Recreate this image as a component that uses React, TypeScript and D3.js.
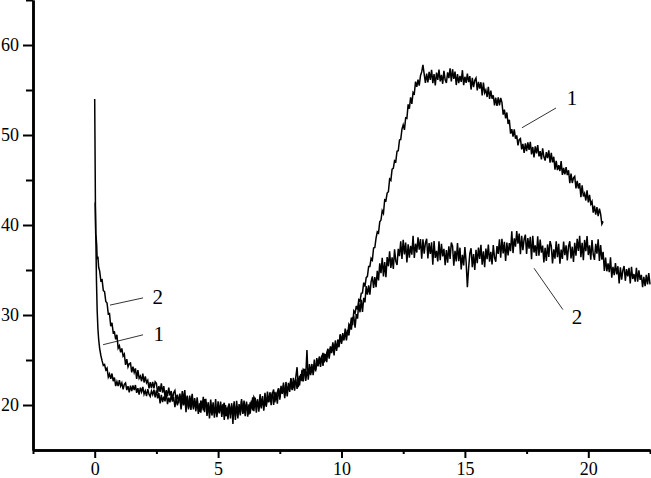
import React, { useEffect, useRef } from 'react';
import * as d3 from 'd3';

const W = 651;
const H = 478;

// steep start of the curves, [x, y]
const head1 = [[0, 54], [0.01, 50], [0.02, 46], [0.03, 42], [0.05, 38], [0.07, 34], [0.1, 30.5], [0.13, 28.5], [0.16, 27.3], [0.2, 26.3], [0.25, 25.5], [0.3, 24.9], [0.35, 24.4], [0.4, 24.5], [0.45, 23.9]];
const head2 = [[0.02, 42.5], [0.04, 39], [0.06, 38.6], [0.08, 37.8], [0.1, 36.2], [0.13, 36.5], [0.16, 35.3], [0.2, 34.9], [0.25, 33.8], [0.3, 33.9], [0.35, 32.7], [0.4, 32.6], [0.45, 31.5]];

// sampled every 0.05 starting at x = 0.5 (one row = one unit of x)
const start = 0.5;
const step = 0.05;

const series1 = [
  24.1, 23.1, 23.45, 22.9, 23.5, 22.65, 23.05, 22.1, 22.6, 22.1, 22.75, 22.1, 22.45, 21.75, 22.3, 22.45, 21.65, 22.1, 21.4, 22.15,
  21.55, 22.18, 21.65, 22.22, 21.35, 21.88, 21.15, 21.92, 21.45, 22.0, 21.2, 21.58, 21.0, 21.77, 21.2, 20.95, 21.55, 21.15, 21.7, 20.85,
  21.63, 20.74, 21.32, 20.18, 21.13, 20.33, 20.94, 20.4, 21.4, 20.09, 20.81, 20.3, 21.11, 20.38, 20.92, 19.75, 20.75, 19.96, 20.56, 20.81,
  19.5, 20.78, 19.95, 20.92, 19.2, 21.05, 19.7, 20.28, 19.45, 21.02, 19.5, 20.78, 19.75, 20.32, 19.0, 20.18, 19.15, 20.42, 19.4, 20.65,
  20.3, 18.78, 19.95, 19.12, 20.6, 19.2, 20.3, 18.58, 19.75, 18.92, 20.4, 19.2, 20.0, 18.68, 19.85, 20.25, 18.75, 19.72, 18.4, 20.0,
  18.9, 20.2, 17.9, 20.42, 18.75, 19.88, 18.5, 20.1, 19.2, 20.45, 19.0, 19.82, 18.75, 20.38, 19.3, 18.95, 20.3, 19.62, 20.85, 19.3,
  20.81, 19.78, 20.64, 19.25, 20.56, 19.62, 20.48, 19.93, 21.35, 19.8, 20.87, 20.29, 21.42, 20.6, 21.39, 20.02, 21.45, 20.54, 21.42, 21.85,
  20.58, 21.85, 21.23, 22.21, 20.75, 22.56, 21.49, 22.1, 21.46, 23.0, 21.75, 23.02, 22.22, 22.86, 21.79, 22.97, 22.17, 23.44, 22.64, 23.96,
  23.78, 22.68, 23.74, 23.22, 24.55, 23.56, 24.56, 23.32, 24.41, 23.9, 25.22, 24.38, 25.15, 24.24, 25.32, 25.79, 24.74, 25.66, 24.75, 26.16,
  25.45, 26.51, 25.96, 26.95, 25.91, 26.83, 26.0, 27.27, 26.79, 27.83, 26.98, 27.74, 27.17, 28.49, 27.92, 27.84, 28.95, 28.66, 29.7, 28.88,
  30.45, 30.2, 31.0, 30.6, 31.7, 31.55, 32.4, 32.45, 33.6, 33.15, 34.15, 34.3, 35.4, 35.4, 36.3, 36.1, 37.45, 37.5, 38.55, 39.25,
  39.1, 40.35, 40.55, 41.6, 41.3, 42.8, 42.7, 43.55, 43.7, 45.1, 44.95, 46.2, 46.3, 47.15, 47.05, 48.2, 48.25, 49.45, 49.5, 50.65,
  51.12, 50.57, 51.91, 51.85, 53.4, 52.92, 54.19, 53.45, 54.74, 54.58, 55.93, 55.34, 56.15, 55.49, 56.58, 57.01, 57.8, 56.76, 55.8, 56.82,
  55.85, 57.02, 56.12, 57.25, 55.77, 56.76, 55.5, 56.94, 56.13, 57.26, 55.96, 56.68, 55.69, 57.13, 56.14, 55.78, 56.95, 56.32, 57.4, 55.96,
  57.31, 56.23, 57.04, 55.55, 56.76, 55.77, 56.58, 55.9, 57.2, 55.53, 56.47, 55.79, 56.82, 55.87, 56.54, 55.05, 56.35, 55.31, 56.07, 56.33,
  54.96, 55.9, 55.16, 55.86, 54.4, 55.82, 54.68, 55.01, 54.22, 55.35, 54.0, 54.94, 54.04, 54.42, 53.28, 54.14, 53.24, 54.18, 53.28, 54.12,
  53.62, 52.27, 52.81, 51.85, 52.5, 51.22, 51.69, 50.15, 50.64, 49.83, 50.63, 49.59, 49.95, 48.84, 49.48, 49.61, 48.41, 49.01, 48.0, 49.07,
  48.2, 49.19, 48.34, 49.25, 47.84, 48.67, 47.5, 48.73, 47.96, 48.87, 47.62, 48.21, 47.28, 48.51, 47.58, 47.16, 48.1, 47.44, 48.3, 46.92,
  48.02, 46.96, 47.58, 46.15, 47.12, 46.09, 46.66, 46.0, 47.1, 45.56, 46.34, 45.63, 46.44, 45.54, 46.08, 44.65, 45.7, 44.67, 45.24, 45.41,
  44.06, 44.9, 44.06, 44.66, 43.1, 44.42, 43.18, 43.51, 42.72, 43.85, 42.5, 43.34, 42.34, 42.62, 41.38, 42.14, 41.14, 41.98, 40.98, 41.82,
  41.2, 40.1, 40.4,
];

const series2 = [
  31.34, 30.12, 30.16, 28.75, 29.14, 28.03, 28.12, 27.3, 27.8, 26.32, 26.58, 25.86, 26.28, 25.43, 25.66, 24.45, 25.1, 24.24, 24.58, 24.67,
  23.62, 24.25, 23.62, 24.07, 22.9, 23.89, 22.96, 23.22, 22.64, 23.5, 22.5, 23.18, 22.48, 22.74, 21.86, 22.53, 21.88, 22.56, 21.86, 22.59,
  22.42, 21.32, 22.11, 21.45, 22.4, 21.37, 22.09, 20.85, 21.64, 20.98, 21.93, 21.04, 21.55, 20.59, 21.38, 21.61, 20.51, 21.16, 20.2, 21.27,
  20.3, 21.55, 20.5, 21.65, 19.9, 20.95, 19.5, 21.05, 20.1, 21.25, 19.7, 20.45, 19.3, 20.85, 19.7, 19.25, 20.5, 19.75, 20.9, 19.2,
  20.69, 19.35, 20.31, 18.52, 20.04, 18.83, 19.82, 19.03, 20.65, 18.64, 19.83, 19.06, 20.38, 19.26, 20.11, 18.35, 20.0, 18.76, 19.73, 20.17,
  18.52, 19.95, 19.07, 20.19, 18.35, 20.47, 19.06, 19.72, 18.84, 20.65, 19.05, 20.5, 19.43, 20.12, 18.71, 20.08, 19.03, 20.48, 19.41, 20.89,
  20.6, 19.15, 20.4, 19.65, 21.2, 19.85, 21.0, 19.38, 20.65, 19.92, 21.5, 20.35, 21.2, 19.98, 21.25, 21.72, 20.3, 21.38, 20.15, 21.82,
  20.85, 22.12, 21.32, 22.48, 21.02, 22.11, 20.95, 22.46, 21.73, 22.91, 21.66, 22.48, 21.59, 23.13, 24.2, 21.98, 23.25, 22.72, 23.9, 22.61,
  24.02, 23.16, 26.1, 22.82, 24.07, 23.32, 24.16, 23.72, 25.05, 23.74, 24.74, 24.3, 25.39, 24.72, 25.48, 24.35, 25.7, 24.94, 25.79, 26.24,
  25.16, 26.3, 25.76, 26.71, 25.5, 27.17, 26.28, 26.91, 26.42, 27.85, 26.8, 27.99, 27.34, 28.02, 27.18, 28.34, 27.74, 28.98, 28.38, 29.67,
  29.8, 28.6, 30.1, 29.6, 31.4, 30.3, 31.7, 30.35, 31.9, 31.4, 33.2, 32.25, 33.3, 32.25, 33.7, 34.3, 33.0, 34.2, 33.1, 34.9,
  33.85, 35.74, 34.64, 36.35, 34.29, 35.87, 34.2, 36.43, 35.41, 37.07, 35.22, 36.41, 35.13, 37.31, 35.98, 35.56, 37.35, 36.54, 38.2, 36.22,
  38.36, 36.73, 38.04, 35.85, 37.86, 36.37, 37.68, 36.7, 38.8, 36.33, 37.92, 36.94, 38.62, 37.27, 38.44, 36.25, 38.4, 36.81, 38.02, 38.48,
  36.28, 38.0, 36.78, 38.08, 35.6, 38.21, 36.34, 37.13, 35.96, 38.2, 36.1, 37.92, 36.52, 37.36, 35.54, 37.22, 35.82, 37.64, 36.24, 38.06,
  37.64, 35.49, 37.12, 35.95, 38.0, 35.99, 37.48, 35.05, 36.68, 35.51, 37.56, 35.88, 33.1, 35.18, 36.86, 37.42, 35.32, 36.77, 35.0, 37.24,
  35.75, 37.49, 36.24, 37.8, 35.59, 37.07, 35.3, 37.38, 36.21, 37.82, 35.92, 37.01, 35.63, 37.76, 36.38, 35.91, 37.65, 36.79, 38.4, 36.37,
  38.46, 36.83, 38.14, 36.0, 38.06, 36.62, 37.98, 37.1, 39.3, 36.88, 38.52, 37.59, 39.32, 37.92, 39.04, 36.75, 38.8, 37.21, 38.42, 38.93,
  36.78, 38.55, 37.38, 38.68, 36.2, 38.81, 36.94, 37.73, 36.56, 38.75, 36.6, 38.37, 36.92, 37.71, 35.84, 37.47, 36.02, 37.84, 36.44, 38.21,
  37.68, 35.73, 37.29, 36.25, 38.2, 36.43, 37.91, 35.7, 37.26, 36.22, 38.17, 36.66, 37.75, 36.06, 37.62, 38.19, 36.29, 37.59, 35.9, 38.03,
  36.6, 38.47, 37.12, 38.8, 36.42, 38.01, 36.1, 38.34, 37.08, 38.76, 36.66, 37.73, 36.14, 38.33, 36.74, 36.13, 37.9, 36.82, 38.4, 36.01,
  37.78, 36.14, 37.02, 34.9, 36.38, 34.86, 35.74, 34.75, 36.4, 34.14, 35.36, 34.42, 35.76, 34.51, 35.42, 33.5, 35.3, 33.93, 34.96, 35.44,
  33.8, 35.1, 34.3, 35.25, 33.5, 35.35, 34.0, 34.55, 33.7, 35.25, 33.7, 34.95, 33.9, 34.45, 33.1, 34.25, 33.2, 34.45, 33.4, 34.65, 33.4,
];

const xMajor = [0, 5, 10, 15, 20];
const xMinor = [-2.5, 2.5, 7.5, 12.5, 17.5, 22.5];
const yMajor = [20, 30, 40, 50, 60];
const yMinor = [25, 35, 45, 55, 65];

// curve labels with leader lines, in data units
const notes = [
  { label: '2', from: [0.62, 31.1], to: [1.96, 31.9], at: [2.55, 32.0] },
  { label: '1', from: [0.34, 26.7], to: [1.96, 27.8], at: [2.6, 27.9] },
  { label: '1', from: [17.31, 50.8], to: [18.69, 53.0], at: [19.34, 54.1] },
  { label: '2', from: [17.8, 35.2], to: [18.97, 30.6], at: [19.54, 29.8] },
];

const font = '"Liberation Serif", "Times New Roman", serif';

const toPoints = (head, vals) =>
  head.concat(vals.map((v, i) => [start + i * step, v]));

const App = () => {
  const svgRef = useRef(null);

  useEffect(() => {
    const svg = d3.select(svgRef.current);
    svg.selectAll('*').remove();

    const x = d3.scaleLinear().domain([-2.5, 22.5]).range([33, 650]);
    const y = d3.scaleLinear().domain([15, 65]).range([450, 0]);

    const line = d3.line()
      .x((d) => x(d[0]))
      .y((d) => y(d[1]));

    [toPoints(head1, series1), toPoints(head2, series2)].forEach((pts) => {
      svg.append('path')
        .datum(pts)
        .attr('fill', 'none')
        .attr('stroke', '#000')
        .attr('stroke-width', 1.5)
        .attr('stroke-linejoin', 'miter')
        .attr('d', line);
    });

    // minor ticks
    svg.append('g')
      .attr('transform', 'translate(33,0)')
      .call(d3.axisLeft(y).tickValues(yMinor).tickSize(7).tickSizeOuter(0).tickFormat(() => ''));
    svg.append('g')
      .attr('transform', 'translate(0,450)')
      .call(d3.axisBottom(x).tickValues(xMinor).tickSize(4).tickSizeOuter(0).tickFormat(() => ''));

    // major ticks + labels
    svg.append('g')
      .attr('transform', 'translate(33,0)')
      .call(d3.axisLeft(y).tickValues(yMajor).tickSize(10).tickSizeOuter(0).tickPadding(4));
    svg.append('g')
      .attr('transform', 'translate(0,450)')
      .call(d3.axisBottom(x).tickValues(xMajor).tickSize(8).tickSizeOuter(0).tickPadding(4));

    svg.selectAll('.domain').attr('stroke', '#000').attr('stroke-width', 2.5);
    svg.selectAll('.tick line').attr('stroke', '#000').attr('stroke-width', 2);
    svg.selectAll('.tick text')
      .attr('fill', '#000')
      .style('font-family', font)
      .style('font-size', '18px');

    notes.forEach((n) => {
      svg.append('line')
        .attr('x1', x(n.from[0])).attr('y1', y(n.from[1]))
        .attr('x2', x(n.to[0])).attr('y2', y(n.to[1]))
        .attr('stroke', '#000')
        .attr('stroke-width', 0.8);
      svg.append('text')
        .attr('x', x(n.at[0]))
        .attr('y', y(n.at[1]))
        .attr('dy', '0.35em')
        .attr('text-anchor', 'middle')
        .style('font-family', font)
        .style('font-size', '21px')
        .text(n.label);
    });
  }, []);

  return (
    <svg
      ref={svgRef}
      width={W}
      height={H}
      style={{ position: 'absolute', left: 0, top: 0, background: '#fff' }}
    />
  );
};

export default App;
